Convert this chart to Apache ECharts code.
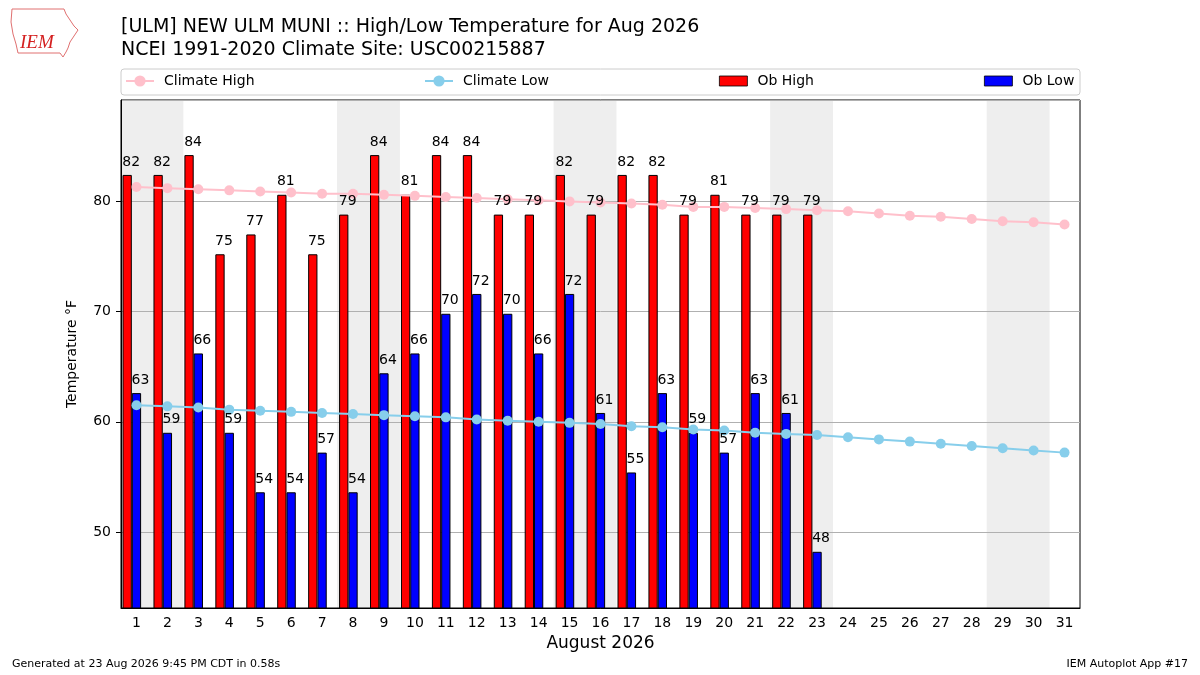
<!DOCTYPE html>
<html>
<head>
<meta charset="utf-8">
<title>ULM High/Low Temperature Aug 2026</title>
<script src="https://cdn.jsdelivr.net/npm/echarts@6/dist/echarts.min.js"></script>
<style>
  html, body { margin: 0; padding: 0; background: #fff; }
  #main { width: 1200px; height: 675px; }
</style>
</head>
<body>
<div id="main"></div>
<script>
// days of August 2026
var days = [];
for (var i = 1; i <= 31; i++) days.push(String(i));

var obHigh = [82.4, 82.4, 84.2, 75.2, 77.0, 80.6, 75.2, 78.8, 84.2, 80.6, 84.2, 84.2,
              78.8, 78.8, 82.4, 78.8, 82.4, 82.4, 78.8, 80.6, 78.8, 78.8, 78.8];
var obLow = [62.6, 59.0, 66.2, 59.0, 53.6, 53.6, 57.2, 53.6, 64.4, 66.2, 69.8, 71.6,
             69.8, 66.2, 71.6, 60.8, 55.4, 62.6, 59.0, 57.2, 62.6, 60.8, 48.2];

// NCEI 1991-2020 climatology
var climateHigh = [81.3, 81.2, 81.1, 81.0, 80.9, 80.8, 80.7, 80.7, 80.6, 80.5, 80.4,
                   80.3, 80.2, 80.1, 80.0, 79.9, 79.8, 79.7, 79.5, 79.5, 79.4, 79.3,
                   79.2, 79.1, 78.9, 78.7, 78.6, 78.4, 78.2, 78.1, 77.9];
var climateLow = [61.5, 61.4, 61.3, 61.1, 61.0, 60.9, 60.8, 60.7, 60.6, 60.5, 60.4,
                  60.2, 60.1, 60.0, 59.9, 59.8, 59.6, 59.5, 59.3, 59.2, 59.0, 58.9,
                  58.8, 58.6, 58.4, 58.2, 58.0, 57.8, 57.6, 57.4, 57.2];

// weekend days get a grey band
var weekendDays = ['1', '2', '8', '9', '15', '16', '22', '23', '29', '30'];

var FONT = 'DejaVu Sans';

var chartDom = document.getElementById('main');
var myChart = echarts.init(chartDom, null, { renderer: 'canvas' });
var option;

function legendAt(name, left, isBar) {
    var l = {
        data: [name],
        left: left,
        top: 74,
        padding: 0,
        itemWidth: 28,
        itemHeight: isBar ? 10 : 14,
        textStyle: { fontFamily: FONT, fontSize: 14, color: '#000', padding: [0, 0, 0, 5] },
        selectedMode: false
    };
    if (isBar) {
        l.icon = 'rect';
        l.itemStyle = { borderColor: '#000', borderWidth: 0.8 };
    }
    return l;
}

// value labels drawn on top of everything; shift = fraction of a day band
function labelSeries(values, shift) {
    return {
        type: 'custom',
        silent: true,
        z: 10,
        data: values.map(function (v, i) { return [days[i], v]; }),
        encode: { x: 0, y: 1 },
        renderItem: function (params, api) {
            var p = api.coord([api.value(0), api.value(1)]);
            var w = api.size([1, 0])[0];
            return {
                type: 'text',
                x: p[0] + shift * w + 4,
                y: p[1] - 6,
                style: {
                    text: String(Math.round(api.value(1))),
                    fill: '#000',
                    font: '14px "DejaVu Sans"',
                    align: 'center',
                    verticalAlign: 'bottom'
                }
            };
        }
    };
}

option = {
    backgroundColor: '#ffffff',
    animation: false,
    textStyle: { fontFamily: FONT },
    title: {
        text: '[ULM] NEW ULM MUNI :: High/Low Temperature for Aug 2026\nNCEI 1991-2020 Climate Site: USC00215887',
        left: 116,
        top: 11,
        textStyle: { fontFamily: FONT, fontSize: 19, fontWeight: 'normal', color: '#000', lineHeight: 23 }
    },
    graphic: [
        {
            type: 'rect',
            shape: { x: 121, y: 69, width: 959, height: 26, r: 3 },
            style: { fill: '#fff', stroke: '#cccccc', lineWidth: 1 },
            z: -10
        },
        {
            // rough outline of the IEM state logo
            type: 'polygon',
            shape: {
                points: [[12, 9], [64, 9], [66, 14], [70, 20], [74, 26], [78, 30], [74, 36],
                         [70, 42], [68, 48], [66, 52], [63, 57], [60, 53], [18, 53], [16, 44],
                         [13, 34], [11, 22]]
            },
            style: { fill: 'none', stroke: '#e07070', lineWidth: 1 }
        },
        {
            type: 'text',
            left: 20,
            top: 33,
            style: { text: 'IEM', fill: '#d42020', fontFamily: 'Liberation Serif', fontStyle: 'italic', fontSize: 19 }
        },
        {
            type: 'text',
            left: 12,
            top: 659,
            style: { text: 'Generated at 23 Aug 2026 9:45 PM CDT in 0.58s', fill: '#000', fontFamily: FONT, fontSize: 11 }
        },
        {
            type: 'text',
            right: 12,
            top: 659,
            style: { text: 'IEM Autoplot App #17', fill: '#000', fontFamily: FONT, fontSize: 11 }
        }
    ],
    legend: [
        legendAt('Climate High', 125, false),
        legendAt('Climate Low', 424, false),
        legendAt('Ob High', 719, true),
        legendAt('Ob Low', 984, true)
    ],
    grid: {
        left: 121,
        right: 120,
        top: 100,
        bottom: 67,
        show: true,
        borderColor: '#000',
        borderWidth: 1,
        backgroundColor: 'transparent'
    },
    xAxis: {
        type: 'category',
        data: days,
        name: 'August 2026',
        nameLocation: 'middle',
        nameGap: 27,
        nameTextStyle: { fontFamily: FONT, fontSize: 17, color: '#000' },
        axisLine: { lineStyle: { color: '#000', width: 1 } },
        axisTick: { alignWithLabel: true, length: 5, lineStyle: { color: '#000' } },
        axisLabel: { fontFamily: FONT, fontSize: 14, color: '#000', margin: 8, interval: 0 },
        splitLine: { show: false }
    },
    yAxis: {
        type: 'value',
        min: 43.1,
        max: 89.2,
        splitNumber: 5,
        name: 'Temperature °F',
        nameLocation: 'middle',
        nameGap: 42,
        nameTextStyle: { fontFamily: FONT, fontSize: 14, color: '#000' },
        axisLine: { show: true, lineStyle: { color: '#000', width: 1 } },
        axisTick: { show: true, length: 5, lineStyle: { color: '#000' } },
        axisLabel: { fontFamily: FONT, fontSize: 14, color: '#000', margin: 10, showMinLabel: false, showMaxLabel: false },
        splitLine: { show: true, lineStyle: { color: '#b0b0b0', width: 1 } }
    },
    series: [
        {
            name: 'weekend',
            type: 'custom',
            silent: true,
            z: -1,
            data: weekendDays.map(function (d) { return [d, 60]; }),
            encode: { x: 0, y: 1 },
            renderItem: function (params, api) {
                var cx = api.coord([api.value(0), 60])[0];
                var w = api.size([1, 0])[0];
                var cs = params.coordSys;
                return {
                    type: 'rect',
                    shape: { x: cx - w / 2 - 0.5, y: cs.y, width: w + 1, height: cs.height },
                    style: { fill: '#eeeeee' }
                };
            }
        },
        {
            name: 'Ob High',
            type: 'bar',
            data: obHigh,
            barWidth: '30%',
            barGap: '0%',
            itemStyle: { color: '#ff0000', borderColor: '#000', borderWidth: 1 }
        },
        {
            name: 'Ob Low',
            type: 'bar',
            data: obLow,
            barWidth: '30%',
            barGap: '0%',
            itemStyle: { color: '#0000ff', borderColor: '#000', borderWidth: 1 }
        },
        {
            // empty slot so the pair sits left of the tick, as in the original
            name: 'pad',
            type: 'bar',
            data: [],
            barWidth: '30%',
            barGap: '0%'
        },
        {
            name: 'Climate High',
            type: 'line',
            data: climateHigh,
            z: 5,
            symbol: 'circle',
            symbolSize: 10,
            itemStyle: { color: '#ffc0cb' },
            lineStyle: { color: '#ffc0cb', width: 2 }
        },
        {
            name: 'Climate Low',
            type: 'line',
            data: climateLow,
            z: 5,
            symbol: 'circle',
            symbolSize: 10,
            itemStyle: { color: '#87ceeb' },
            lineStyle: { color: '#87ceeb', width: 2 }
        },
        labelSeries(obHigh, -0.3),
        labelSeries(obLow, 0)
    ]
};

option && myChart.setOption(option);
</script>
</body>
</html>
